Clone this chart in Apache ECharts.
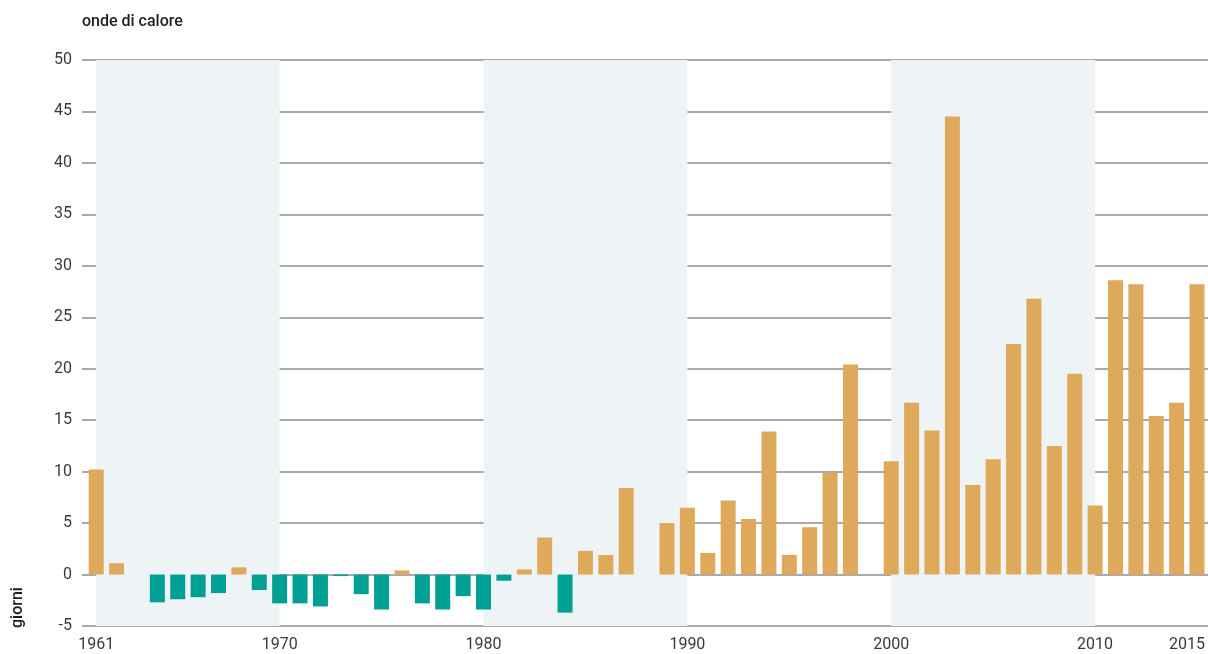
<!DOCTYPE html>
<html>
<head>
<meta charset="utf-8">
<script src="https://cdn.jsdelivr.net/npm/echarts@6/dist/echarts.min.js"></script>
<style>
  html, body { margin: 0; padding: 0; background: #ffffff; }
  #chart { width: 1208px; height: 654px; }
</style>
</head>
<body>
<div id="chart"></div>
<script>
// Heat-wave days anomaly per year, 1961–2015
const years = [];
for (let y = 1961; y <= 2015; y++) years.push(String(y));

const giorni = [
  10.2, 1.1, null, -2.7, -2.4, -2.2, -1.8, 0.7, -1.5, -2.8,   // 1961-1970
  -2.8, -3.1, -0.15, -1.9, -3.4, 0.4, -2.8, -3.4, -2.1, -3.4, // 1971-1980
  -0.6, 0.5, 3.6, -3.7, 2.3, 1.9, 8.4, null, 5.0, 6.5,        // 1981-1990
  2.1, 7.2, 5.4, 13.9, 1.9, 4.6, 9.9, 20.4, null, 11.0,       // 1991-2000
  16.7, 14.0, 44.5, 8.7, 11.2, 22.4, 26.8, 12.5, 19.5, 6.7,   // 2001-2010
  28.6, 28.2, 15.4, 16.7, 28.2                                // 2011-2015
];

const yearLabels = ['1961', '1970', '1980', '1990', '2000', '2010', '2015'];
const decadeBands = [['1961', '1970'], ['1980', '1990'], ['2000', '2010']];
const yTicks = { min: -5, max: 50, step: 5 };

const colorUp = '#DEA95A';
const colorDown = '#00A094';
const font = 'Roboto, "Liberation Sans", sans-serif';

const chart = echarts.init(document.getElementById('chart'), null, { renderer: 'canvas' });

chart.setOption({
  animation: false,
  backgroundColor: '#ffffff',
  title: {
    text: 'onde di calore',
    left: 77,
    top: 9,
    textStyle: { fontFamily: font, fontSize: 16, fontWeight: 500, color: '#1e1e1e' }
  },
  graphic: [{
    type: 'text',
    x: 10,
    y: 628,
    rotation: Math.PI / 2,
    style: {
      text: 'giorni',
      font: '500 16px ' + font,
      fill: '#1e1e1e',
      textAlign: 'left',
      textVerticalAlign: 'top'
    }
  }],
  grid: [
    { left: 82, right: 0, top: 60, bottom: 28 },
    { left: 86, right: 0, top: 60, bottom: 28 }
  ],
  xAxis: [
    { gridIndex: 0, type: 'value', min: 0, max: 1, show: false },
    {
      gridIndex: 1,
      type: 'category',
      data: years,
      boundaryGap: true,
      axisLine: { show: false },
      axisTick: { show: false },
      axisLabel: {
        interval: (idx, val) => yearLabels.includes(val),
        margin: 11,
        fontFamily: font,
        fontSize: 16,
        color: '#3a3a3a',
        formatter: v => v === '2015' ? '{r|' + v + '}' : v,
        rich: { r: { fontFamily: font, fontSize: 16, color: '#3a3a3a', padding: [0, 20, 0, 0] } }
      }
    }
  ],
  yAxis: [
    {
      gridIndex: 0,
      type: 'value',
      min: yTicks.min,
      max: yTicks.max,
      interval: yTicks.step,
      z: 1,
      axisLine: { show: false },
      axisTick: { show: false },
      axisLabel: { margin: 10, fontFamily: font, fontSize: 16, color: '#3a3a3a' },
      splitLine: { lineStyle: { color: '#8e8e8e', width: 1.5 } }
    },
    {
      gridIndex: 1,
      type: 'value',
      min: yTicks.min,
      max: yTicks.max,
      interval: yTicks.step,
      show: false,
      splitLine: { show: false }
    }
  ],
  series: [
    {
      // shaded decades, kept behind the grid lines
      type: 'line',
      xAxisIndex: 1,
      yAxisIndex: 1,
      z: -1,
      symbol: 'none',
      silent: true,
      lineStyle: { opacity: 0 },
      data: years.map(() => null),
      markArea: {
        silent: true,
        itemStyle: { color: '#EEF3F6' },
        data: decadeBands.map(([a, b]) => [{ xAxis: a }, { xAxis: b }])
      }
    },
    {
      type: 'bar',
      xAxisIndex: 1,
      yAxisIndex: 1,
      barWidth: 15,
      z: 3,
      data: giorni.map(v => v === null ? null : {
        value: v,
        itemStyle: { color: v >= 0 ? colorUp : colorDown }
      })
    }
  ]
});
</script>
</body>
</html>
